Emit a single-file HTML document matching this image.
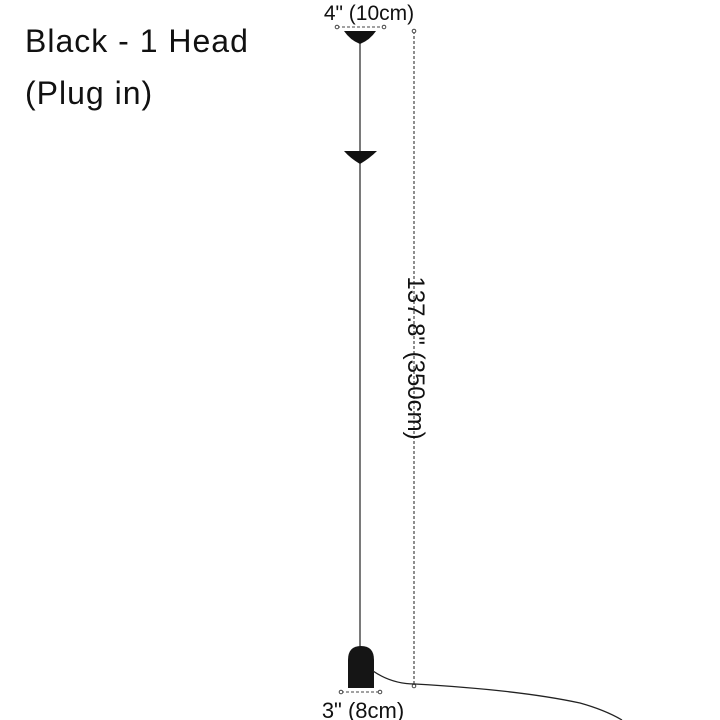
<!DOCTYPE html>
<html><head><style>
body{margin:0;width:720px;height:720px;background:#fff;overflow:hidden;font-family:"Liberation Sans",sans-serif;}
</style></head><body>
<svg width="720" height="720" xmlns="http://www.w3.org/2000/svg" style="position:absolute;left:0;top:0">
<text x="25" y="52" font-size="32" letter-spacing="1" fill="#111" font-family="Liberation Sans">Black - 1 Head</text>
<text x="25" y="104" font-size="32" letter-spacing="1" fill="#111" font-family="Liberation Sans">(Plug in)</text>
<text x="369" y="20" font-size="21" fill="#111" text-anchor="middle" font-family="Liberation Sans">4" (10cm)</text>
<line x1="337" y1="27" x2="384" y2="27" stroke="#444" stroke-dasharray="3,2" stroke-width="1"/>
<circle cx="337" cy="27" r="1.8" fill="#fff" stroke="#444"/>
<circle cx="384" cy="27" r="1.8" fill="#fff" stroke="#444"/>
<line x1="414" y1="31" x2="414" y2="686" stroke="#444" stroke-dasharray="3,2" stroke-width="1.2"/>
<circle cx="414" cy="31" r="1.8" fill="#fff" stroke="#444"/>
<circle cx="414" cy="686" r="1.8" fill="#fff" stroke="#444"/>
<text x="0" y="0" font-size="24" fill="#111" text-anchor="middle" font-family="Liberation Sans" transform="translate(408,358) rotate(90)">137.8" (350cm)</text>
<line x1="360" y1="40" x2="360" y2="648" stroke="#222" stroke-width="1.2"/>
<path d="M344,31 L376,31 Q370,40 360,44 Q350,40 344,31Z" fill="#111"/>
<path d="M344,151 L377,151 Q370,158 360,164 Q350,158 344,151Z" fill="#111"/>
<path d="M348,688 L348,660 Q348,646 361,646 Q374,646 374,660 L374,688Z" fill="#151515"/>
<path d="M373,671 Q392,684 415,684 Q520,690 580,703 Q605,710 622,720" fill="none" stroke="#222" stroke-width="1.3"/>
<line x1="341" y1="692" x2="380" y2="692" stroke="#444" stroke-dasharray="3,2" stroke-width="1"/>
<circle cx="341" cy="692" r="1.8" fill="#fff" stroke="#444"/>
<circle cx="380" cy="692" r="1.8" fill="#fff" stroke="#444"/>
<text x="363" y="718" font-size="22" fill="#111" text-anchor="middle" font-family="Liberation Sans">3" (8cm)</text>
</svg>
</body></html>
